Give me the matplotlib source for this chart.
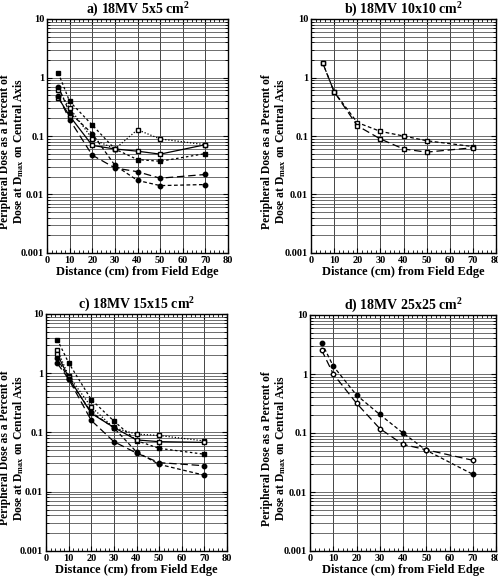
import matplotlib
matplotlib.use("Agg")
import matplotlib.pyplot as plt
from matplotlib.ticker import LogLocator, FixedLocator, FuncFormatter, MultipleLocator

plt.rcParams['font.family'] = ['Liberation Serif', 'DejaVu Serif']
plt.rcParams['font.weight'] = 'bold'
plt.rcParams['axes.labelweight'] = 'bold'
plt.rcParams['axes.titleweight'] = 'bold'
plt.rcParams['mathtext.fontset'] = 'custom'
plt.rcParams['mathtext.rm'] = 'Liberation Serif:bold'
plt.rcParams['mathtext.it'] = 'Liberation Serif:bold'
plt.rcParams['mathtext.bf'] = 'Liberation Serif:bold'

dist = [5, 10, 20, 30, 40, 50, 70]

# a) 5x5
a_sq_fill = [1.19, 0.39, 0.154, 0.06, 0.0395, 0.037, 0.05]
a_sq_dot = [0.62, 0.30, 0.09, 0.06, 0.128, 0.089, 0.071]
a_sq_solid = [0.45, 0.22, 0.069, 0.06, 0.055, 0.049, 0.071]
a_ci_long = [0.48, 0.19, 0.047, 0.0285, 0.0245, 0.019, 0.022]
a_ci_short = [0.70, 0.25, 0.11, 0.0316, 0.0174, 0.0142, 0.0148]

# b) 10x10
b_sq_short = [1.8, 0.57, 0.17, 0.12, 0.10, 0.083, 0.066]
b_sq_long = [1.8, 0.57, 0.15, 0.089, 0.06, 0.053, 0.063]

# c) 15x15
c_sq_fill = [3.7, 1.5, 0.36, 0.156, 0.073, 0.054, 0.043]
c_sq_dot = [2.47, 0.9, 0.27, 0.12, 0.094, 0.089, 0.072]
c_sq_solid = [2.1, 0.85, 0.21, 0.122, 0.075, 0.07, 0.068]
c_ci_long = [1.47, 0.8, 0.16, 0.07, 0.045, 0.031, 0.0275]
c_ci_short = [1.8, 0.8, 0.22, 0.12, 0.047, 0.029, 0.019]

# d) 25x25
d_ci_fill = [3.4, 1.36, 0.44, 0.206, 0.10, 0.051, 0.02]
d_ci_open = [2.55, 1.0, 0.32, 0.119, 0.064, 0.052, 0.0345]

titles = ['a) 18MV 5x5 cm$^2$', 'b) 18MV 10x10 cm$^2$',
          'c) 18MV 15x15 cm$^2$', 'd) 18MV 25x25 cm$^2$']

fig = plt.figure(figsize=(4.98, 5.78), dpi=100)
W, H = 498.0, 578.0
# axes boxes in pixels (left, top, right, bottom) and ylabel right edge x
boxes = [(47, 19, 228, 253), (311, 19, 496, 253),
         (46, 314, 227, 551), (310, 315, 496, 551)]
ylab_x = [26, 288, 26, 288]
axes = []
for (l, t, r, b) in boxes:
    axes.append(fig.add_axes([l / W, 1 - b / H, (r - l) / W, (b - t) / H]))

def style(ax, i):
    l, t, r, b = boxes[i]
    ax.set_yscale('log')
    ax.set_xlim(0, 80)
    ax.set_ylim(0.001, 10)
    ax.xaxis.set_major_locator(MultipleLocator(10))
    ax.xaxis.set_minor_locator(MultipleLocator(2))
    ax.yaxis.set_major_locator(FixedLocator([0.001, 0.01, 0.1, 1, 10]))
    ax.yaxis.set_minor_locator(LogLocator(base=10, subs=range(2, 10)))
    ax.yaxis.set_major_formatter(FuncFormatter(lambda v, p: '%g' % v))
    ax.yaxis.set_minor_formatter(FuncFormatter(lambda v, p: ''))
    ax.grid(True, which='major', axis='x', color='#444444', lw=0.7)
    ax.grid(True, which='both', axis='y', color='#555555', lw=0.6)
    ax.tick_params(which='both', direction='in', top=True, right=True,
                   labelsize=7.5, pad=2)
    ax.tick_params(which='minor', length=2)
    for s in ax.spines.values():
        s.set_linewidth(1.0)
    ax.set_title(titles[i], fontsize=10, pad=3)
    ax.set_xlabel('Distance (cm) from Field Edge', fontsize=9, labelpad=1)
    ax.set_ylabel('Peripheral Dose as a Percent of\nDose at D$_{max}$ on Central Axis',
                  fontsize=8.4, linespacing=1.0)
    ax.yaxis.set_label_coords((ylab_x[i] - l) / (r - l), 0.435)

ms = 3.5
mc = 3.2
k = dict(color='black', lw=0.9)

ax = axes[0]
ax.plot(dist, a_sq_fill, ls=(0, (2, 2)), marker='s', ms=ms, **k)
ax.plot(dist, a_sq_dot, ls=(0, (1, 1.5)), marker='s', mfc='white', ms=ms, **k)
ax.plot(dist, a_sq_solid, ls='-', marker='s', mfc='white', ms=ms, **k)
ax.plot(dist, a_ci_long, ls=(0, (6, 3)), marker='o', ms=mc, **k)
ax.plot(dist, a_ci_short, ls=(0, (3, 2)), marker='o', ms=mc, **k)
style(ax, 0)

ax = axes[1]
ax.plot(dist, b_sq_short, ls=(0, (3, 2)), marker='s', mfc='white', ms=ms, **k)
ax.plot(dist, b_sq_long, ls=(0, (6, 3)), marker='s', mfc='white', ms=ms, **k)
style(ax, 1)

ax = axes[2]
ax.plot(dist, c_sq_fill, ls=(0, (2, 2)), marker='s', ms=ms, **k)
ax.plot(dist, c_sq_dot, ls=(0, (1, 1.5)), marker='s', mfc='white', ms=ms, **k)
ax.plot(dist, c_sq_solid, ls='-', marker='s', mfc='white', ms=ms, **k)
ax.plot(dist, c_ci_long, ls=(0, (6, 3)), marker='o', ms=mc, **k)
ax.plot(dist, c_ci_short, ls=(0, (3, 2)), marker='o', ms=mc, **k)
style(ax, 2)

ax = axes[3]
ax.plot(dist, d_ci_fill, ls=(0, (3, 2)), marker='o', ms=mc, **k)
ax.plot(dist, d_ci_open, ls=(0, (6, 3)), marker='o', mfc='white', ms=mc, **k)
style(ax, 3)

fig.savefig('out.png', dpi=100)
